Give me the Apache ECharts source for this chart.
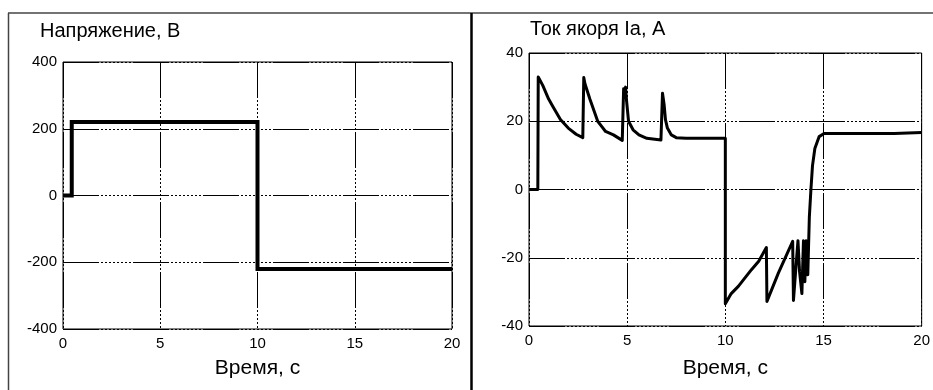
<!DOCTYPE html>
<html>
<head>
<meta charset="utf-8">
<script src="https://cdn.jsdelivr.net/npm/echarts@6/dist/echarts.min.js"></script>
<style>
html,body{margin:0;padding:0;background:#fff;}
#chart{width:933px;height:390px;}
</style>
</head>
<body>
<div id="chart"></div>
<script>
// ---- Data ----
const leftTitle = 'Напряжение, В';
const rightTitle = 'Ток якоря Ia, A';
const xAxisName = 'Время, с';

const voltageTime   = [0, 0.45, 0.45, 10, 10, 20];
const voltageValues = [0, 0, 220, 220, -220, -220];

const currentTime = [
  0, 0.45, 0.47, 0.7, 1.0, 1.2, 1.6, 2.0, 2.4, 2.74,
  2.79, 2.85, 3.1, 3.5, 3.7, 3.9, 4.3, 4.75,
  4.78, 4.82, 4.87, 4.92, 4.97, 5.07, 5.3, 5.6, 6.0, 6.72,
  6.75, 6.8, 6.88, 6.95, 7.05, 7.25, 7.5, 8.0, 10.0,
  10.0, 10.3, 10.66, 11.33, 11.7, 12.09,
  12.12, 12.7, 13.43,
  13.47, 13.62, 13.7, 13.78, 13.9, 13.98, 14.05, 14.12, 14.2,
  14.28, 14.36, 14.44, 14.56, 14.78, 15.03, 18.6, 18.7, 20
];
const currentValues = [
  0, 0, 33, 30.5, 26.5, 24.5, 20.5, 18, 16.2, 15.2,
  32.8, 31, 26.5, 20, 18.5, 17, 16, 14.4,
  14.4, 29.5, 27.5, 30, 26, 20, 17.5, 16, 15, 14.5,
  14.5, 28.2, 25, 20.5, 18, 16, 15.2, 15, 15,
  -33.5, -30.5, -28.4, -23.5, -21, -17,
  -32.8, -24.5, -15.2,
  -32.5, -21, -15, -24, -30.5, -15, -27, -15, -25,
  -8, 0, 7, 12, 15.5, 16.4, 16.4, 16.7, 16.7
];

const xTicks = {min: 0, max: 20, interval: 5};
const vTicks = {min: -400, max: 400, interval: 200};
const iTicks = {min: -40, max: 40, interval: 20};

// ---- Build ----
const FONT = "'Liberation Sans', Arial, sans-serif";
const gridDash = [36, 2, 2, 2, 2, 2, 2, 2, 2, 2, 2, 2, 2, 2, 2, 2, 2, 2];

function pairs(xs, ys) { return xs.map((x, i) => [x, ys[i]]); }

function xAxisFor(gridIndex, gap) {
  return {
    type: 'value', gridIndex, min: xTicks.min, max: xTicks.max, interval: xTicks.interval,
    name: xAxisName, nameLocation: 'middle', nameGap: gap,
    nameTextStyle: {fontSize: 21, color: '#000', fontFamily: FONT},
    axisLine: {show: false, onZero: false},
    axisTick: {show: false},
    axisLabel: {fontSize: 15, color: '#000', fontFamily: FONT, margin: 7},
    splitLine: {show: true, lineStyle: {color: '#000', width: 1, type: gridDash}}
  };
}
function yAxisFor(gridIndex, t) {
  return {
    type: 'value', gridIndex, min: t.min, max: t.max, interval: t.interval,
    axisLine: {show: false},
    axisTick: {show: false},
    axisLabel: {fontSize: 15, color: '#000', fontFamily: FONT, margin: 6},
    splitLine: {show: true, lineStyle: {color: '#000', width: 1, type: gridDash}}
  };
}

const chart = echarts.init(document.getElementById('chart'), null, {renderer: 'canvas'});
chart.setOption({
  backgroundColor: '#fff',
  animation: false,
  title: [
    {text: leftTitle, left: 40, top: 21, padding: 0,
     textStyle: {fontSize: 20, fontWeight: 'normal', color: '#000', fontFamily: FONT}},
    {text: rightTitle, left: 530, top: 19, padding: 0,
     textStyle: {fontSize: 20, fontWeight: 'normal', color: '#000', fontFamily: FONT}}
  ],
  grid: [
    {left: 63, right: 481, top: 62, bottom: 61, show: true, borderColor: '#000', borderWidth: 1, backgroundColor: 'transparent'},
    {left: 529, right: 8, top: 53, bottom: 64, show: true, borderColor: '#000', borderWidth: 1, backgroundColor: 'transparent'}
  ],
  xAxis: [xAxisFor(0, 29), xAxisFor(1, 32)],
  yAxis: [yAxisFor(0, vTicks), yAxisFor(1, iTicks)],
  series: [
    {type: 'line', xAxisIndex: 0, yAxisIndex: 0, data: pairs(voltageTime, voltageValues),
     showSymbol: false, lineStyle: {color: '#000', width: 4, join: 'miter'}, itemStyle: {color: '#000'}},
    {type: 'line', xAxisIndex: 1, yAxisIndex: 1, data: pairs(currentTime, currentValues),
     showSymbol: false, lineStyle: {color: '#000', width: 3, join: 'round'}, itemStyle: {color: '#000'}}
  ],
  graphic: [
    {type: 'line', shape: {x1: 8.5, y1: 13, x2: 8.5, y2: 390}, style: {stroke: '#444', lineWidth: 1.5}},
    {type: 'line', shape: {x1: 8, y1: 13, x2: 933, y2: 13}, style: {stroke: '#444', lineWidth: 1.5}},
    {type: 'line', shape: {x1: 471.5, y1: 13, x2: 471.5, y2: 390}, style: {stroke: '#000', lineWidth: 2.5}}
  ]
});
</script>
</body>
</html>
